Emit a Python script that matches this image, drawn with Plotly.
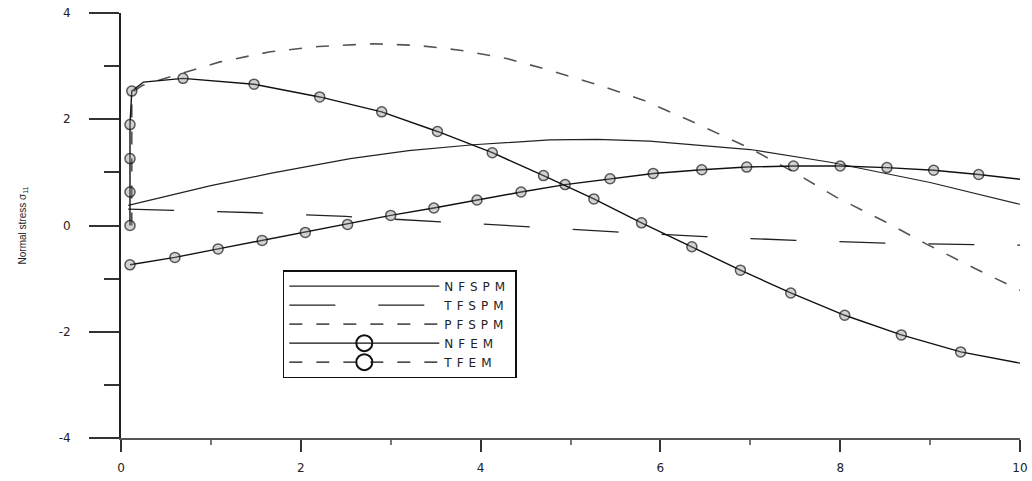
import plotly.graph_objects as go

# ---- data ----
x_nfspm = [0.08, 0.5, 1.0, 1.66, 2.55, 3.2, 3.92, 4.77, 5.3, 5.88, 7.0, 7.89, 9.0, 10.0]
y_nfspm = [0.38, 0.55, 0.75, 0.98, 1.26, 1.41, 1.52, 1.61, 1.62, 1.59, 1.43, 1.19, 0.81, 0.40]

x_tfspm = [0.08, 0.5, 1.5, 2.5, 3.5, 4.5, 5.5, 6.5, 7.5, 8.5, 9.5, 10.0]
y_tfspm = [0.31, 0.29, 0.24, 0.17, 0.08, -0.02, -0.12, -0.21, -0.28, -0.33, -0.36, -0.37]

x_pfspm = [0.12, 0.12, 0.24, 0.66, 1.1, 1.66, 2.2, 2.8, 3.3, 3.77, 4.3, 4.77, 5.3, 5.81,
           6.4, 7.0, 7.5, 7.96, 8.5, 8.96, 9.5, 10.0]
y_pfspm = [0.0, 2.5, 2.64, 2.86, 3.08, 3.27, 3.37, 3.42, 3.39, 3.30, 3.14, 2.92, 2.65, 2.36,
           1.92, 1.45, 0.99, 0.53, 0.07, -0.35, -0.81, -1.22]

x_nfem = [0.1, 0.6, 1.08, 1.57, 2.05, 2.52, 3.0, 3.48, 3.96, 4.45, 4.94, 5.44, 5.92,
          6.46, 6.96, 7.48, 8.0, 8.52, 9.04, 9.54, 10.0]
y_nfem = [-0.74, -0.6, -0.44, -0.28, -0.13, 0.02, 0.19, 0.33, 0.48, 0.63, 0.77, 0.88, 0.98,
          1.05, 1.10, 1.12, 1.12, 1.09, 1.04, 0.96, 0.87]
m_nfem = [True] * 20 + [False]

x_tfem = [0.1, 0.1, 0.1, 0.1, 0.12, 0.25, 0.69, 1.48, 2.21, 2.9, 3.52, 4.13, 4.7, 5.26,
          5.79, 6.35, 6.89, 7.45, 8.05, 8.68, 9.34, 10.0]
y_tfem = [0.0, 0.63, 1.26, 1.9, 2.53, 2.70, 2.77, 2.66, 2.42, 2.14, 1.77, 1.37, 0.94, 0.5,
          0.05, -0.4, -0.84, -1.27, -1.69, -2.06, -2.38, -2.59]
m_tfem = [True] * 5 + [False] + [True] * 15 + [False]

x_ticks = [0, 2, 4, 6, 8, 10]
y_ticks = [-4, -2, 0, 2, 4]
legend_names = ["NFSPM", "TFSPM", "PFSPM", "NFEM", "TFEM"]

MK_FILL = "rgba(140,140,140,0.55)"


def wide(s):
    return '<span style="letter-spacing:5px">' + s + '</span>'


fig = go.Figure()

fig.add_trace(go.Scatter(x=x_nfspm, y=y_nfspm, mode="lines", name=wide(legend_names[0]),
                         line=dict(color="#222", width=1.2)))
fig.add_trace(go.Scatter(x=x_tfspm, y=y_tfspm, mode="lines", name=wide(legend_names[1]),
                         line=dict(color="#222", width=1.3, dash="46px,43px")))
fig.add_trace(go.Scatter(x=x_pfspm, y=y_pfspm, mode="lines", name=wide(legend_names[2]),
                         line=dict(color="#555", width=1.6, dash="13px,14px")))

# FEM curves drawn in the plot (solid, circles)
fig.add_trace(go.Scatter(x=x_nfem, y=y_nfem, mode="lines+markers", showlegend=False,
                         line=dict(color="#111", width=1.4),
                         marker=dict(symbol="circle", size=[10 if m else 0 for m in m_nfem],
                                     color=MK_FILL, line=dict(color="#111", width=1.5))))
fig.add_trace(go.Scatter(x=x_tfem, y=y_tfem, mode="lines+markers", showlegend=False,
                         line=dict(color="#111", width=1.4),
                         marker=dict(symbol="circle", size=[10 if m else 0 for m in m_tfem],
                                     color=MK_FILL, line=dict(color="#111", width=1.5))))

# legend entries for the FEM curves
fig.add_trace(go.Scatter(x=[None], y=[None], mode="lines+markers", name=wide(legend_names[3]),
                         line=dict(color="#111", width=1.3),
                         marker=dict(symbol="circle-open", size=16,
                                     color="#111", line=dict(width=2))))
fig.add_trace(go.Scatter(x=[None], y=[None], mode="lines+markers", name=wide(legend_names[4]),
                         line=dict(color="#111", width=1.3, dash="13px,14px"),
                         marker=dict(symbol="circle-open", size=16,
                                     color="#111", line=dict(width=2))))

axis_font = dict(family="DejaVu Sans, Liberation Sans, Arial", size=12, color="#222")

fig.update_layout(
    width=1032, height=481,
    margin=dict(l=121, r=12, t=13, b=43, autoexpand=False),
    paper_bgcolor="white", plot_bgcolor="white",
    showlegend=True,
    legend=dict(x=0.18, y=0.395, xanchor="left", yanchor="top",
                bgcolor="white", bordercolor="#111", borderwidth=1.5,
                itemwidth=150, traceorder="normal",
                font=dict(family="DejaVu Sans, Liberation Sans, Arial", size=12, color="#222"),
                itemclick=False, itemdoubleclick=False),
    xaxis=dict(range=[0, 10], tickvals=x_ticks, ticktext=[str(v) for v in x_ticks],
               automargin=False,
               showgrid=False, zeroline=False, showline=True, linecolor="#555", linewidth=2,
               ticks="outside", ticklen=12, tickwidth=2, tickcolor="#333",
               ticklabelstandoff=6, tickfont=axis_font,
               minor=dict(dtick=1, tick0=0, ticks="outside", ticklen=5, tickwidth=2,
                          tickcolor="#777", showgrid=False)),
    yaxis=dict(range=[-4, 4], tickvals=y_ticks, ticktext=[str(v) for v in y_ticks],
               automargin=False,
               showgrid=False, zeroline=False, showline=True, linecolor="#222", linewidth=2,
               ticks="outside", ticklen=30, tickwidth=2, tickcolor="#333",
               ticklabelstandoff=16, tickfont=axis_font,
               minor=dict(dtick=1, tick0=0, ticks="outside", ticklen=15, tickwidth=2,
                          tickcolor="#333", showgrid=False),
               title=dict(text="Normal stress σ<sub>11</sub>", standoff=30,
                          font=dict(family="Liberation Sans, Arial", size=10, color="#222"))),
)

fig.write_html("out.html", config={"displayModeBar": False},
               post_script="document.body.style.margin='0';document.body.style.overflow='hidden';")
